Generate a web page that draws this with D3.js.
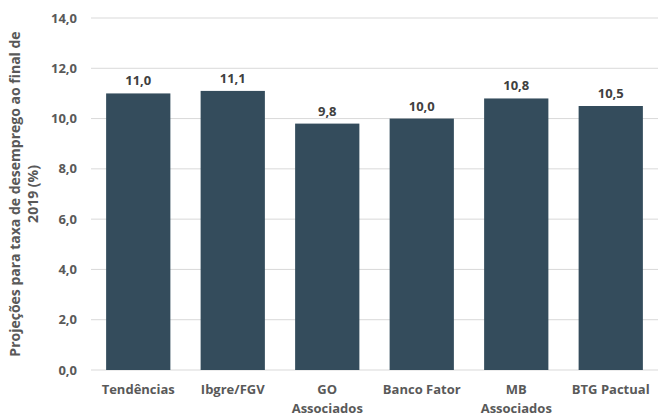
<!DOCTYPE html>
<html><head><meta charset="utf-8">
<script src="https://cdn.jsdelivr.net/npm/d3@7"></script>
<style>body{margin:0;background:#fff;}svg{display:block;font-family:"Open Sans",sans-serif;}</style>
</head><body>
<svg id="c" width="658" height="414"></svg>
<script>
const categories = ["Tendências","Ibgre/FGV","GO Associados","Banco Fator","MB Associados","BTG Pactual"];
const values = [11.0, 11.1, 9.8, 10.0, 10.8, 10.5];
const yTicks = [0,2,4,6,8,10,12,14];
const yTitle = ["Projeções para taxa de desemprego ao final de","2019 (%)"];

const svg = d3.select("#c");
const m = {left:91, right:0, top:18, bottom:44};
const W = 658, H = 414;
const x = d3.scaleBand().domain(categories).range([m.left, W - m.right]).paddingInner(0.32).paddingOuter(0.16);
const y = d3.scaleLinear().domain([0,14]).range([370, 18]);
const fmt = v => d3.format(".1f")(v).replace(".", ",");

const g = svg.append("g");
g.selectAll("line.grid").data(yTicks).join("line")
  .attr("x1", m.left).attr("x2", W - m.right)
  .attr("y1", d => y(d)).attr("y2", d => y(d))
  .attr("stroke", "#d9d9d9").attr("stroke-width", 1);

g.selectAll("text.yt").data(yTicks).join("text")
  .attr("x", 77).attr("y", d => y(d)).attr("dy", "0.35em")
  .attr("text-anchor", "end").attr("font-size", 13).attr("font-weight", 700)
  .attr("fill", "#595959").text(fmt);

g.selectAll("rect.bar").data(values).join("rect")
  .attr("x", (d,i) => x(categories[i])).attr("width", x.bandwidth())
  .attr("y", d => y(d)).attr("height", d => y(0) - y(d))
  .attr("fill", "#344c5c");

g.selectAll("text.val").data(values).join("text")
  .attr("x", (d,i) => x(categories[i]) + x.bandwidth()/2)
  .attr("y", d => y(d) - 8)
  .attr("text-anchor", "middle").attr("font-size", 13).attr("font-weight", 700)
  .attr("fill", "#404040").text(fmt);

categories.forEach(c => {
  const words = c.split(" ");
  let lines = (c.includes("Associados")) ? [words[0], words.slice(1).join(" ")] : [c];
  const t = g.append("text").attr("x", x(c) + x.bandwidth()/2).attr("y", 394)
    .attr("text-anchor","middle").attr("font-size",13).attr("font-weight",700).attr("fill","#595959");
  lines.forEach((l,i) => t.append("tspan").attr("x", x(c) + x.bandwidth()/2).attr("dy", i ? 19 : 0).text(l));
});

const yt = g.append("text").attr("transform", "translate(20,194) rotate(-90)")
  .attr("text-anchor","middle").attr("font-size",14).attr("font-weight",700).attr("fill","#595959");
yTitle.forEach((l,i) => yt.append("tspan").attr("x",0).attr("dy", i ? 18 : 0).text(l));
</script>
</body></html>
